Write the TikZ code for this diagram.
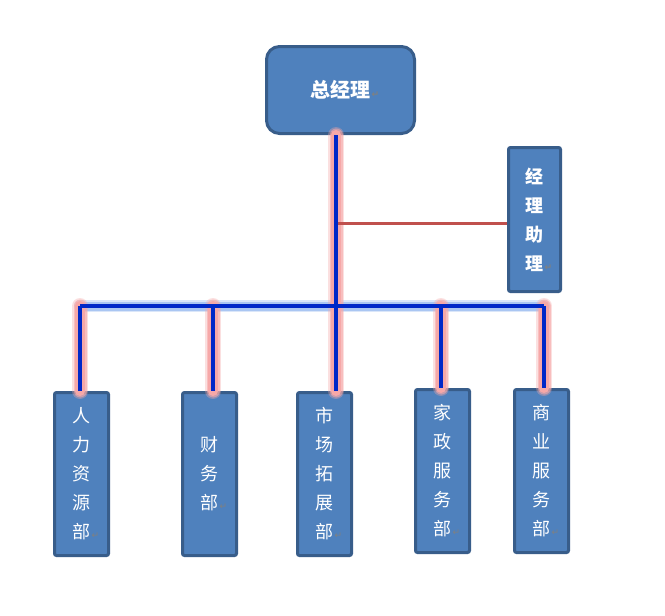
\documentclass[tikz,border=0pt]{standalone}
\usepackage{fontspec}
\newfontfamily\cjk{Noto Sans CJK SC}
\newfontfamily\symf{DejaVu Sans}
\definecolor{boxfill}{RGB}{79,129,189}
\definecolor{boxline}{RGB}{56,93,138}
\definecolor{linkblue}{RGB}{0,40,200}
\definecolor{glowred}{RGB}{246,168,168}
\definecolor{glowblue}{RGB}{150,185,240}
\definecolor{asstred}{RGB}{192,80,77}
\newcommand{\pmark}{\rlap{\kern1pt\symf\fontsize{9}{9}\selectfont\color{gray}↵}}
\tikzset{
  unit/.style={draw=boxline, fill=boxfill, line width=3pt, inner sep=0pt,
    text=white, align=center, rounded corners=2pt},
  boss/.style={unit, rounded corners=13pt, minimum width=148pt, minimum height=87pt,
    font=\cjk\bfseries\fontsize{20}{29}\selectfont},
  asst/.style={unit, minimum width=52pt, minimum height=144pt,
    font=\cjk\bfseries\fontsize{18}{29}\selectfont},
  dept/.style={unit, minimum width=54pt, minimum height=163pt,
    font=\cjk\fontsize{18}{29}\selectfont},
  glowr/.style={line cap=round,
    preaction={draw=glowred, line cap=round, line width=16pt, opacity=0.35},
    preaction={draw=glowred, line cap=round, line width=13pt, opacity=0.6},
    preaction={draw=glowred, line cap=round, line width=10pt}},
  glowb/.style={line cap=round,
    preaction={draw=glowblue, line cap=round, line width=12pt, opacity=0.35},
    preaction={draw=glowblue, line cap=round, line width=9pt, opacity=0.7}},
  link/.style={draw=linkblue, line width=4pt},
  asstlink/.style={draw=asstred, line width=3pt}
}
\begin{document}
\begin{tikzpicture}[x=1pt, y=-1pt]
\fill[white] (0,0) rectangle (665,616);
\useasboundingbox (0,0) rectangle (665,616);

% nodes
\node[boss] (gm) at (340.5,90) {总经理\pmark};
\node[asst] (as) at (534.5,219.5) {经\\理\\助\\理\pmark};
\node[dept] (d1) at (81.5,474) {人\\力\\资\\源\\部\pmark};
\node[dept] (d2) at (209.5,474) {财\\务\\部\pmark};
\node[dept] (d3) at (324.5,474) {市\\场\\拓\\展\\部\pmark};
\node[dept] (d4) at (442.5,471) {家\\政\\服\\务\\部\pmark};
\node[dept] (d5) at (541.5,471) {商\\业\\服\\务\\部\pmark};

% junctions
\coordinate (j1) at (80,306);
\coordinate (j2) at (213,306);
\coordinate (j3) at (336,306);
\coordinate (j4) at (441,306);
\coordinate (j5) at (544,306);
\coordinate (ta) at (336,223);

% glows
\path[glowb] (j1) -- (j5);
\path[glowr] (gm.south -| j3) -- (j3 |- d3.north);
\path[glowr] (j1) -- (j1 |- d1.north);
\path[glowr] (j2) -- (j2 |- d2.north);
\path[glowr] (j4) -- (j4 |- d4.north);
\path[glowr] (j5) -- (j5 |- d5.north);

% lines
\draw[asstlink] (ta) -- (ta -| as.west);
\draw[link] (j1) -- (j5);
\draw[link] (gm.south -| j3) -- (j3 |- d3.north);
\draw[link] (j1) -- (j1 |- d1.north);
\draw[link] (j2) -- (j2 |- d2.north);
\draw[link] (j4) -- (j4 |- d4.north);
\draw[link] (j5) -- (j5 |- d5.north);
\end{tikzpicture}
\end{document}
